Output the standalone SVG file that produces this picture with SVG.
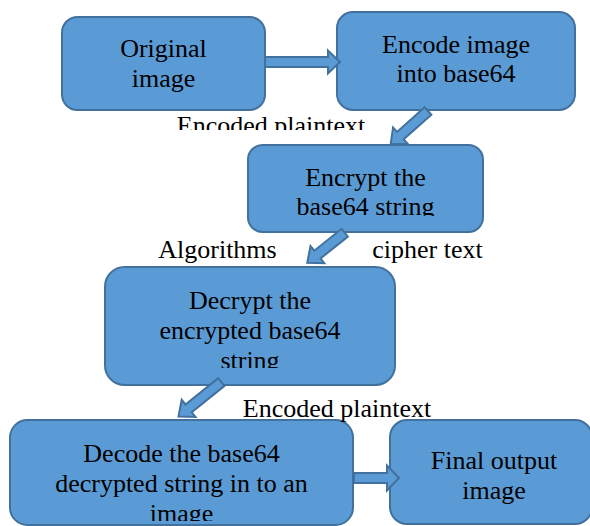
<svg xmlns="http://www.w3.org/2000/svg" width="590" height="526" viewBox="0 0 590 526">
<style>
.box{fill:#5B9BD5;stroke:#41719C;stroke-width:2}
.arr{fill:#5B9BD5;stroke:#41719C;stroke-width:2;stroke-linejoin:miter}
.t{font-family:'Liberation Serif',serif;font-size:26px;fill:#000;text-anchor:middle}
</style>
<defs>
<clipPath id="cTop"><rect x="0" y="0" width="590" height="130"/></clipPath>
<clipPath id="c3"><rect x="0" y="0" width="590" height="216"/></clipPath>
<clipPath id="c4"><rect x="0" y="0" width="590" height="368"/></clipPath>
<clipPath id="c5"><rect x="0" y="0" width="590" height="521"/></clipPath>
</defs>
<rect width="590" height="526" fill="#fff"/>
<g id="n1">
<rect class="box" x="62" y="17" width="203" height="93" rx="15.5"/>
<text class="t" font-family="Liberation Serif" x="163.5" y="57">Original</text>
<text class="t" font-family="Liberation Serif" x="163.5" y="87">image</text>
</g>
<g id="n2">
<rect class="box" x="337" y="12" width="238" height="98" rx="16"/>
<text class="t" font-family="Liberation Serif" x="456" y="53">Encode image</text>
<text class="t" font-family="Liberation Serif" x="456" y="82">into base64</text>
</g>
<g id="n3">
<rect class="box" x="248" y="145" width="235" height="87" rx="14.5"/>
<text class="t" font-family="Liberation Serif" x="365.5" y="186">Encrypt the</text>
<text class="t" font-family="Liberation Serif" x="365.5" y="215" clip-path="url(#c3)">base64 string</text>
</g>
<g id="n4">
<rect class="box" x="105" y="267" width="290" height="118" rx="19.5"/>
<text class="t" font-family="Liberation Serif" x="250" y="309">Decrypt the</text>
<text class="t" font-family="Liberation Serif" x="250" y="339">encrypted base64</text>
<text class="t" font-family="Liberation Serif" x="250" y="369" clip-path="url(#c4)">string</text>
</g>
<g id="n5">
<rect class="box" x="10" y="420" width="343" height="105" rx="17.5"/>
<text class="t" font-family="Liberation Serif" x="181.5" y="462">Decode the base64</text>
<text class="t" font-family="Liberation Serif" x="181.5" y="492">decrypted string in to an</text>
<text class="t" font-family="Liberation Serif" x="181.5" y="522" clip-path="url(#c5)">image</text>
</g>
<g id="n6">
<rect class="box" x="390" y="420" width="202" height="104" rx="17"/>
<text class="t" font-family="Liberation Serif" x="494" y="469">Final output</text>
<text class="t" font-family="Liberation Serif" x="494" y="499">image</text>
</g>
<g id="connectors">
<polygon class="arr" points="265,57 328,57 328,50.5 340,62 328,73.5 328,67 265,67"/>
<g transform="translate(428,111) rotate(138.3)"><polygon class="arr" points="0,-5 37,-5 37,-11 50,0 37,11 37,5 0,5"/></g>
<g transform="translate(344.7,232.7) rotate(141.3)"><polygon class="arr" points="0,-5 35,-5 35,-11 48,0 35,11 35,5 0,5"/></g>
<g transform="translate(221.3,382) rotate(141.1)"><polygon class="arr" points="0,-5 42,-5 42,-11 55,0 42,11 42,5 0,5"/></g>
<polygon class="arr" points="354,473 387,473 387,465.5 399,478 387,490.5 387,483 354,483"/>
</g>
<g id="labels">
<text class="t" font-family="Liberation Serif" x="271" y="134" clip-path="url(#cTop)">Encoded plaintext</text>
<text class="t" font-family="Liberation Serif" x="217.5" y="258">Algorithms</text>
<text class="t" font-family="Liberation Serif" x="427.5" y="258">cipher text</text>
<text class="t" font-family="Liberation Serif" x="337" y="417">Encoded plaintext</text>
</g>
</svg>
